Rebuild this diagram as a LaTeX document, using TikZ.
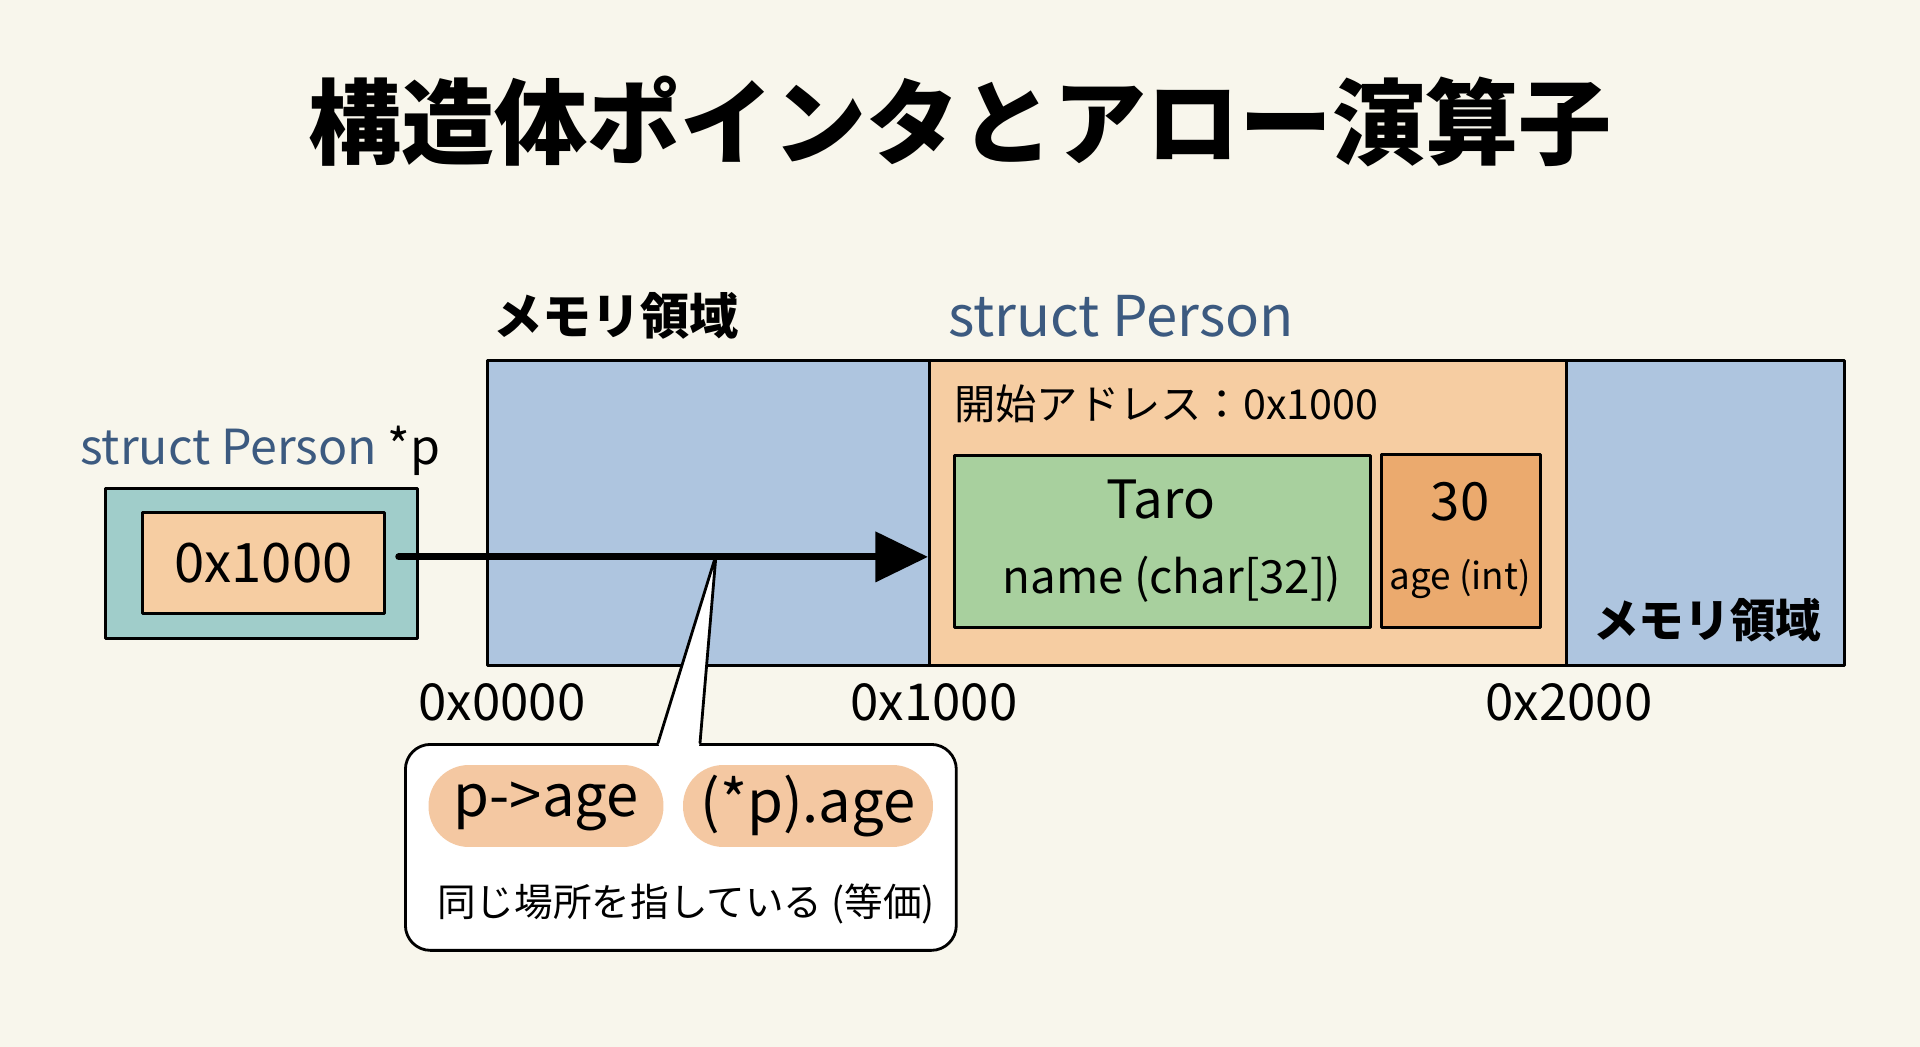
\documentclass[tikz,border=0pt]{standalone}
\usepackage{fontspec}
\setmainfont{Noto Sans CJK JP}
\usetikzlibrary{positioning,arrows.meta}
\definecolor{bgcream}{HTML}{F8F6EC}
\definecolor{memblue}{HTML}{AEC5DF}
\definecolor{structorange}{HTML}{F6CDA2}
\definecolor{namegreen}{HTML}{A8D09E}
\definecolor{ageorange}{HTML}{EBAA6E}
\definecolor{ptrteal}{HTML}{A0CDCA}
\definecolor{pillorange}{HTML}{F4C8A2}
\definecolor{typeblue}{HTML}{3C5A80}
\newcommand{\fsz}[1]{\fontsize{#1}{#1}\selectfont}
\begin{document}
\begin{tikzpicture}[x=0.02cm, y=-0.02cm, line join=round, line cap=round,
	box/.style={draw, line width=1.6pt, inner sep=0pt, anchor=north west},
	addr/.style={font=\fsz{29}},
	pill/.style={fill=pillorange, rounded corners=23pt, minimum height=1.64cm, inner sep=0pt, font=\fsz{33}}]
	\fill[bgcream] (0,0) rectangle (1920,1047);
	\useasboundingbox (0,0) rectangle (1920,1047);
	\node[font=\fsz{53}\bfseries] (title) at (960,122) {構造体ポインタとアロー演算子};
	% memory strip
	\node[box, fill=memblue, minimum width=27.14cm, minimum height=6.1cm] (mem) at (486,359) {};
	\node[box, fill=structorange, minimum width=12.74cm, minimum height=6.1cm] (person) at (928,359) {};
	\node[font=\fsz{28}\bfseries, anchor=west] (memtop) at (487,316) {メモリ領域};
	\node[font=\fsz{32}, text=typeblue, anchor=west] (structlabel) at (942,316) {struct Person};
	\node[font=\fsz{23.5}, anchor=west] (start) at (948,404) {開始アドレス：0x1000};
	\node[box, fill=namegreen, minimum width=8.32cm, minimum height=3.44cm] (name) at (953,454) {};
	\node[box, fill=ageorange, minimum width=3.18cm, minimum height=3.46cm] (age) at (1380,453) {};
	\node[font=\fsz{30}] (taro) at (1161,500) {Taro};
	\node[font=\fsz{26}] (namelabel) at (1172,579) {name (char[32])};
	\node[font=\fsz{30}] (thirty) at (1460,502) {30};
	\node[font=\fsz{21}] (agelabel) at (1460,579) {age (int)};
	\node[font=\fsz{26}\bfseries, anchor=west] (memright) at (1587,620) {メモリ領域};
	\node[addr] (a0) at (502,702) {0x0000};
	\node[addr] (a1) at (934,702) {0x1000};
	\node[addr] (a2) at (1569,702) {0x2000};
	% pointer variable
	\node[font=\fsz{27.5}, anchor=west] (ptrlabel) at (74,451) {\textcolor{typeblue}{struct Person} *p};
	\node[box, fill=ptrteal, minimum width=6.24cm, minimum height=3cm] (ptr) at (104,487) {};
	\node[box, fill=structorange, minimum width=4.84cm, minimum height=2.02cm, font=\fsz{31}] (ptrin) at (141,511) {0x1000};
	% callout
	\coordinate (tip) at (716,555);
	\node[box, fill=white, rounded corners=0.5cm, minimum width=11.02cm, minimum height=4.12cm] (callout) at (404,743) {};
	\fill[white] (661,750) -- (658,743) -- (tip) -- (700,743) -- (697,750) -- cycle;
	\draw[line width=1.6pt] (658,743) -- (tip) -- (700,743);
	\node[pill, minimum width=4.7cm] (arrowexpr) at (546,806) {p->age};
	\node[pill, minimum width=5cm] (derefexpr) at (808,806) {(*p).age};
	\node[font=\fsz{22}] (same) at (686,904) {同じ場所を指している (等価)};
	% pointer arrow
	\draw[line width=4pt, -{Triangle[length=30pt,width=28pt]}] ([xshift=0.26cm,yshift=0.12cm]ptrin.east) -- ([yshift=0.12cm]ptrin.east -| person.west);
\end{tikzpicture}
\end{document}
